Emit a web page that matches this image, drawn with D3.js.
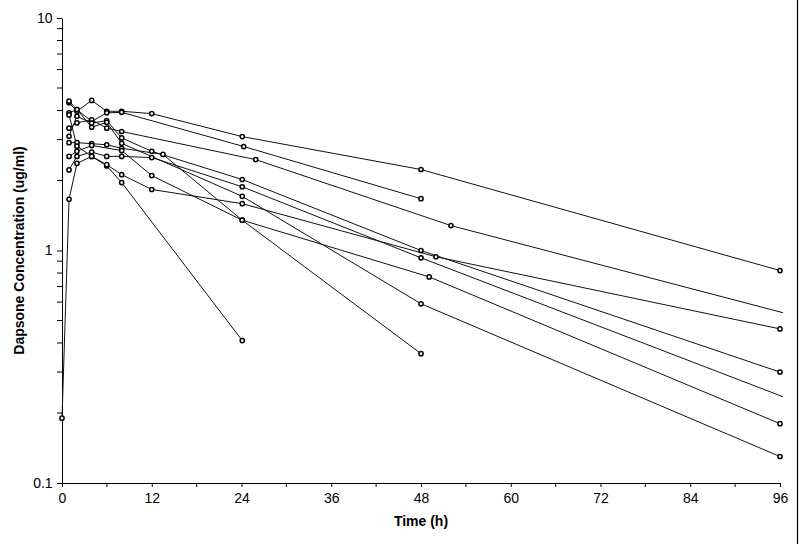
<!DOCTYPE html>
<html><head><meta charset="utf-8">
<script src="https://cdn.jsdelivr.net/npm/d3@7"></script>
<style>
body{margin:0;background:#fff;}
svg{display:block;font-family:"Liberation Sans",Arial,sans-serif;}
</style></head>
<body><svg id="c" width="800" height="544"></svg>
<script>
// Sampling times (h) and concentrations (ug/ml) per subject
const subjA = {t:[0.94,2,3.97,5.98,7.98,12,24.1,48,96], c:[4.32,3.97,4.42,3.97,3.97,3.88,3.09,2.23,0.82], m:[1,1,1,1,1,1,1,1,1]};
const subjB = {t:[0.94,2,3.97,5.98,7.98,24.3,48], c:[3.91,4.04,3.59,3.91,3.93,2.80,1.67], m:[1,1,1,1,1,1,1]};
const subjC = {t:[0.94,2,3.97,5.98,7.98,25.9,52,96.4], c:[3.36,3.54,3.65,3.36,3.25,2.46,1.28,0.54], m:[1,1,1,1,1,1,1,0]};
const subjD = {t:[0.94,2,3.97,5.98,7.98,12,24.1,48,96], c:[3.10,3.78,3.53,3.62,3.05,2.67,2.02,1.00,0.30], m:[1,1,1,1,1,1,1,1,1]};
const subjG = {t:[0.94,2,3.97,5.98,7.98,24.1,48,96], c:[4.39,4.04,3.39,3.56,2.89,1.71,0.59,0.13], m:[1,1,1,1,1,1,1,1]};
const subjI = {t:[0.94,2,3.97,5.98,7.98,13.5,24.1,48], c:[2.91,2.91,2.88,2.85,2.75,2.59,1.35,0.36], m:[1,1,1,1,1,1,1,1]};
const subjJ = {t:[0.94,2,3.97,7.98,12,24.1,49.1,96], c:[2.54,2.67,2.83,2.69,2.10,1.35,0.77,0.18], m:[1,1,1,1,1,1,1,1]};
const subjF = {t:[0.94,2,3.97,5.98,7.98,12,24.1,48,96.4], c:[2.22,2.54,2.65,2.54,2.54,2.51,1.88,0.93,0.235], m:[1,1,1,1,1,1,1,1,0]};
const subjE = {t:[0.94,2,3.97,5.98,7.98,24.1], c:[3.83,2.81,2.54,2.31,1.96,0.41], m:[1,1,1,1,1,1]};
const subjH = {t:[0,0.94,2,3.97,5.98,7.98,12,24.1,50,96], c:[0.19,1.66,2.37,2.54,2.34,2.12,1.83,1.59,0.94,0.46], m:[1,1,1,1,1,1,1,1,1,1]};
const subjects = [subjA,subjB,subjC,subjD,subjG,subjI,subjJ,subjF,subjE,subjH];

const xTicks = [0,12,24,36,48,60,72,84,96];
const xMinor = [6,18,30,42,54,66,78,90];
const yLabels = [0.1,1,10];
const yMinor = [0.2,0.3,0.4,0.5,0.6,0.7,0.8,0.9,2,3,4,5,6,7,8,9];

const svg = d3.select("#c");
const L=62, R=780, T=18, B=483;
const x = d3.scaleLinear().domain([0,96]).range([L,R]);
const y = d3.scaleLog().domain([0.1,10]).range([B,T]);

// right border of the scanned figure
svg.append("line").attr("x1",797.5).attr("x2",797.5).attr("y1",0).attr("y2",544)
  .attr("stroke","#000").attr("stroke-width",1.2);

// axes
const xAxis = d3.axisBottom(x).tickValues(xTicks).tickSize(4).tickSizeOuter(0).tickFormat(d3.format("d"));
const gx = svg.append("g").attr("transform",`translate(0,${B})`).call(xAxis);
gx.selectAll("text").attr("font-size",14).attr("dy","0.95em").attr("fill","#000");
gx.append("g").selectAll("line").data(xMinor).join("line")
  .attr("x1",d=>x(d)).attr("x2",d=>x(d)).attr("y1",0).attr("y2",4).attr("stroke","#000");

const yAxis = d3.axisLeft(y).tickValues(yLabels).tickSize(5).tickSizeOuter(0)
  .tickFormat(d=>d===0.1?"0.1":String(d));
const gy = svg.append("g").attr("transform",`translate(${L},0)`).call(yAxis);
gy.selectAll("text").attr("font-size",14).attr("fill","#000").attr("dx","-0.1em");
gy.append("g").selectAll("line").data(yMinor).join("line")
  .attr("x1",-5).attr("x2",0).attr("y1",d=>y(d)).attr("y2",d=>y(d)).attr("stroke","#000");
svg.selectAll(".domain").attr("stroke","#000");

// lines
const line = d3.line().x(d=>x(d[0])).y(d=>y(d[1]));
subjects.forEach(s=>{
  const pts = s.t.map((t,i)=>[t,s.c[i],s.m[i]]);
  svg.append("path").datum(pts).attr("d",line).attr("fill","none")
    .attr("stroke","#111").attr("stroke-width",1);
});
subjects.forEach(s=>{
  const pts = s.t.map((t,i)=>[t,s.c[i],s.m[i]]).filter(d=>d[2]);
  svg.append("g").selectAll("circle").data(pts).join("circle")
    .attr("cx",d=>x(d[0])).attr("cy",d=>y(d[1])).attr("r",2.1)
    .attr("fill","#fff").attr("stroke","#000").attr("stroke-width",1.5);
});

// axis titles
svg.append("text").attr("x",(L+R)/2).attr("y",526).attr("text-anchor","middle")
  .attr("font-size",14).attr("font-weight","bold").text("Time (h)");
svg.append("text").attr("transform",`translate(24,${(T+B)/2}) rotate(-90)`)
  .attr("text-anchor","middle").attr("font-size",14).attr("font-weight","bold")
  .text("Dapsone Concentration (ug/ml)");
</script></body></html>
